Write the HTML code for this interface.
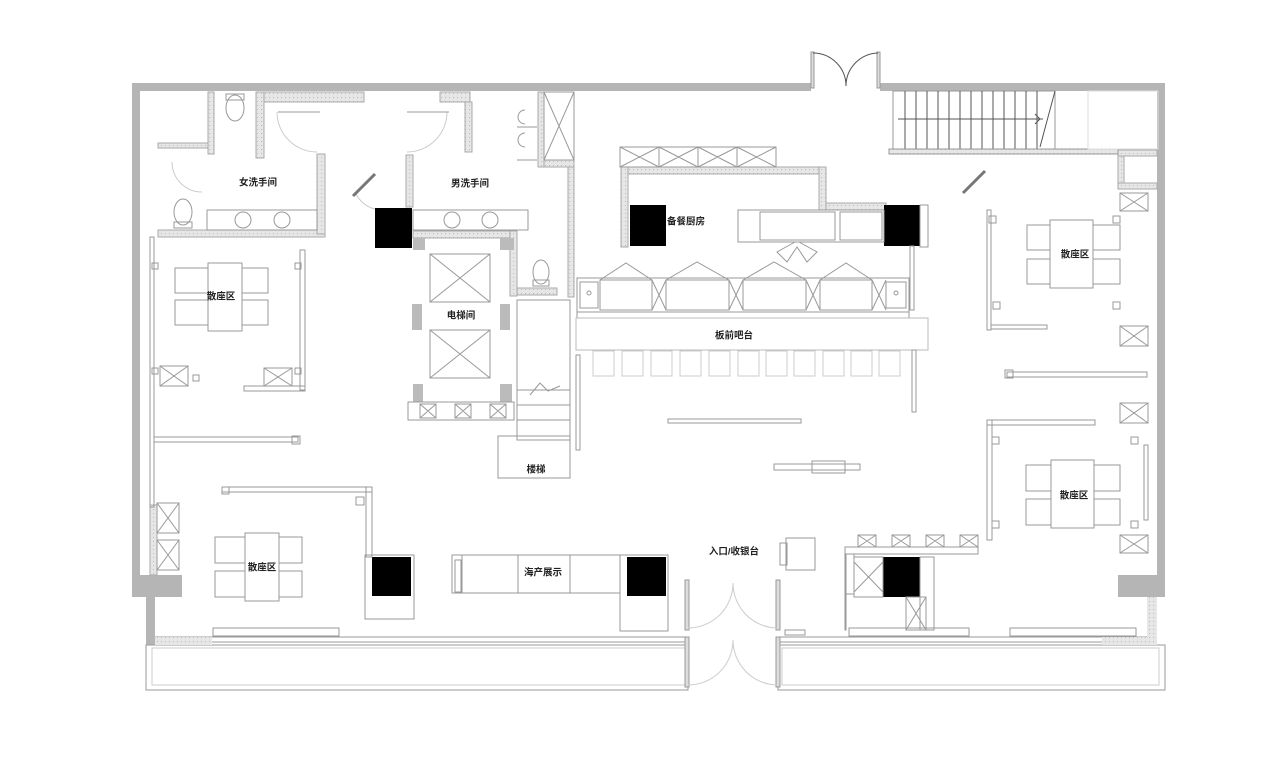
<!DOCTYPE html>
<html><head><meta charset="utf-8">
<style>
html,body{margin:0;padding:0;background:#fff;}
svg{display:block;}
text{font-family:"Liberation Sans","Noto Sans CJK SC",sans-serif;font-size:9.5px;font-weight:bold;fill:#222;text-anchor:middle;dominant-baseline:middle;}
</style></head>
<body>
<svg width="1280" height="757" viewBox="0 0 1280 757" xmlns="http://www.w3.org/2000/svg">
<defs>
<pattern id="dot" width="4" height="4" patternUnits="userSpaceOnUse"><rect width="4" height="4" fill="#e6e6e6"/><rect x="1" y="1" width="1" height="1" fill="#bbb"/></pattern>
</defs>
<g fill="none" stroke="#999" stroke-width="1">
<!-- outer walls -->
<g fill="#b5b5b5" stroke="none">
<rect x="132" y="83" width="679" height="8"/>
<rect x="880" y="83" width="285" height="8"/>
<rect x="132" y="83" width="8" height="514"/>
<rect x="132" y="575" width="50" height="22"/>
<rect x="146" y="597" width="9" height="48"/>
<rect x="1157" y="83" width="8" height="513"/>
<rect x="1118" y="575" width="47" height="22"/>
</g>
<!-- top door -->
<rect x="811" y="52" width="3" height="36" fill="#ddd"/>
<rect x="877" y="52" width="3" height="36" fill="#ddd"/>
<path d="M813 53 A33 33 0 0 1 846 86 M878 53 A33 33 0 0 0 846 86" stroke="#555"/>
<!-- bottom porch -->
<rect x="146" y="645" width="542" height="45"/>
<rect x="152" y="648" width="534" height="37" stroke="#ccc"/>
<rect x="778" y="645" width="387" height="45"/>
<rect x="782" y="648" width="377" height="37" stroke="#ccc"/>
<line x1="155" y1="637" x2="688" y2="637"/>
<line x1="155" y1="642" x2="688" y2="642"/>
<line x1="778" y1="637" x2="1157" y2="637"/>
<line x1="778" y1="642" x2="1157" y2="642"/>
<rect x="155" y="637" width="57" height="8" fill="url(#dot)" stroke="none"/>
<rect x="1102" y="637" width="55" height="8" fill="url(#dot)" stroke="none"/>
<rect x="1147" y="597" width="10" height="40" fill="url(#dot)" stroke="none"/>
<rect x="213" y="628" width="126" height="8"/>
<rect x="1010" y="628" width="126" height="8"/>
<rect x="849" y="628" width="120" height="8"/>
<!-- entrance doors -->
<rect x="685" y="580" width="4" height="50" fill="#ddd"/><rect x="685" y="637" width="4" height="50" fill="#ddd"/>
<rect x="776" y="580" width="4" height="50" fill="#ddd"/><rect x="776" y="637" width="4" height="50" fill="#ddd"/>
<path d="M688 628 A45 45 0 0 0 733 583 A45 45 0 0 0 777 628 M688 685 A45 45 0 0 0 733 640 A45 45 0 0 0 777 685" stroke="#ccc"/>
<!-- toilets area walls -->
<g fill="url(#dot)" stroke="#aaa">
<rect x="158" y="143" width="50" height="5"/>
<rect x="158" y="230" width="167" height="7"/>
<rect x="317" y="154" width="8" height="80"/>
<rect x="208" y="92" width="6" height="62"/>
<rect x="256" y="92" width="8" height="66"/>
<rect x="264" y="92" width="100" height="10"/>
<rect x="440" y="92" width="30" height="10"/>
<rect x="465" y="102" width="7" height="50"/>
<rect x="406" y="155" width="7" height="52"/>
<rect x="413" y="231" width="102" height="7"/>
<rect x="510" y="231" width="7" height="65"/>
<rect x="517" y="288" width="40" height="7"/>
<rect x="538" y="92" width="6" height="75"/>
<rect x="544" y="160" width="30" height="7"/>
<rect x="568" y="167" width="6" height="130"/>
<rect x="621" y="167" width="205" height="7"/>
<rect x="621" y="167" width="7" height="80"/>
<rect x="819" y="167" width="7" height="43"/>
<rect x="826" y="203" width="60" height="7"/>
<rect x="1118" y="150" width="39" height="6"/>
<rect x="1118" y="156" width="6" height="30"/>
<rect x="1118" y="183" width="39" height="6"/>
<rect x="150" y="505" width="7" height="70"/>
</g>
<!-- toilet fixtures -->
<ellipse cx="235" cy="108" rx="9" ry="13"/><rect x="226" y="94" width="18" height="6"/>
<ellipse cx="183" cy="212" rx="9" ry="13"/><rect x="174" y="222" width="18" height="6"/>
<ellipse cx="541" cy="272" rx="8" ry="12"/><rect x="533" y="280" width="16" height="6"/>
<rect x="207" y="210" width="110" height="20"/><circle cx="243" cy="220" r="8"/><circle cx="282" cy="220" r="8"/>
<rect x="413" y="210" width="115" height="20"/><circle cx="452" cy="220" r="8"/><circle cx="490" cy="220" r="8"/>
<path d="M525 110 a7 7 0 0 0 0 14 M525 133 a7 7 0 0 0 0 14"/>
<line x1="517" y1="127" x2="537" y2="127"/><line x1="517" y1="160" x2="537" y2="160"/>
<rect x="544" y="92" width="30" height="68"/><path d="M544 92 L574 160 M574 92 L544 160"/>
<!-- door arcs -->
<path d="M277 112 A40 40 0 0 0 317 152 M447 112 A40 40 0 0 1 407 152 M172 162 A30 30 0 0 0 202 192 M355 192 A30 30 0 0 0 380 210" stroke="#ccc"/>
<line x1="278" y1="112" x2="320" y2="112"/><line x1="407" y1="112" x2="449" y2="112"/>
<line x1="353" y1="196" x2="375" y2="174" stroke-width="3" stroke="#777"/>
<line x1="963" y1="193" x2="985" y2="171" stroke-width="3" stroke="#777"/>
<!-- black columns -->
<g fill="#000" stroke="none">
<rect x="375" y="208" width="37" height="40"/>
<rect x="630" y="205" width="36" height="41"/>
<rect x="884" y="205" width="36" height="41"/>
<rect x="372" y="557" width="39" height="39"/>
<rect x="627" y="557" width="39" height="39"/>
<rect x="883" y="557" width="37" height="40"/>
</g>
<!-- elevator -->
<rect x="430" y="254" width="60" height="48"/><path d="M430 254 L490 302 M490 254 L430 302"/>
<rect x="430" y="330" width="60" height="48"/><path d="M430 330 L490 378 M490 330 L430 378"/>
<g fill="#bbb" stroke="none">
<rect x="413" y="238" width="12" height="12"/><rect x="500" y="238" width="14" height="12"/>
<rect x="412" y="304" width="10" height="26"/><rect x="500" y="304" width="10" height="26"/>
<rect x="413" y="384" width="10" height="18"/><rect x="500" y="384" width="12" height="18"/>
</g>
<rect x="408" y="402" width="106" height="18"/>
<path d="M420 404 h16 v14 h-16z M420 404 l16 14 M436 404 l-16 14 M455 404 h16 v14 h-16z M455 404 l16 14 M471 404 l-16 14 M490 404 h16 v14 h-16z M490 404 l16 14 M506 404 l-16 14"/>
<!-- stairs -->
<rect x="517" y="300" width="53" height="140"/>
<path d="M517 390 h53 M517 405 h53 M517 420 h53 M530 395 l10 -12 l8 8 l12 -5"/>
<rect x="498" y="436" width="72" height="42"/>
<rect x="576" y="355" width="4" height="95"/>
<rect x="893" y="91" width="162" height="58"/>
<g stroke="#555"><path d="M905 91 v58 M916 91 v58 M927 91 v58 M938 91 v58 M949 91 v58 M960 91 v58 M971 91 v58 M982 91 v58 M993 91 v58 M1004 91 v58 M1015 91 v58 M1026 91 v58 M1037 91 v58 M898 119 h145 M1055 91 L1040 147 M1035 114 l5 5 l-5 5 M1029 119 h12"/></g>
<rect x="889" y="149" width="229" height="5" fill="url(#dot)"/>
<rect x="1088" y="91" width="70" height="58" stroke="#ddd"/>
<!-- kitchen -->
<rect x="620" y="147" width="156" height="20"/>
<path d="M620 147 h39 v20 h-39z M620 147 l39 20 M659 147 l-39 20 M659 147 h39 v20 h-39z M659 147 l39 20 M698 147 l-39 20 M698 147 h39 v20 h-39z M698 147 l39 20 M737 147 l-39 20 M737 147 h39 v20 h-39z M737 147 l39 20 M776 147 l-39 20"/>
<rect x="738" y="210" width="146" height="32"/>
<rect x="760" y="212" width="75" height="28"/><rect x="840" y="212" width="42" height="28"/>
<path d="M795 242 l-18 10 l10 10 l10 -15 l10 15 l10 -10 l-18 -10"/>
<rect x="920" y="205" width="8" height="42"/>
<!-- bar counter -->
<rect x="577" y="278" width="332" height="34"/>
<g>
<rect x="600" y="280" width="52" height="30"/><path d="M600 280 l26 -17 l26 17"/>
<rect x="666" y="280" width="63" height="30"/><path d="M666 280 l31 -18 l32 18"/>
<rect x="743" y="280" width="63" height="30"/><path d="M743 280 l31 -18 l32 18"/>
<rect x="820" y="280" width="52" height="30"/><path d="M820 280 l26 -17 l26 17"/>
<path d="M652 280 l14 30 M666 280 l-14 30 M729 280 l14 30 M743 280 l-14 30 M806 280 l14 30 M820 280 l-14 30 M872 280 l14 30 M886 280 l-14 30"/>
<rect x="580" y="282" width="18" height="26"/><rect x="886" y="282" width="20" height="26"/>
<circle cx="589" cy="293" r="2"/><circle cx="896" cy="293" r="2"/>
</g>
<rect x="577" y="312" width="332" height="6"/>
<rect x="576" y="318" width="352" height="32" stroke="#bbb"/>
<g stroke="#ccc">
<rect x="593" y="351" width="21" height="25"/><rect x="622" y="351" width="21" height="25"/><rect x="651" y="351" width="21" height="25"/><rect x="680" y="351" width="21" height="25"/><rect x="709" y="351" width="21" height="25"/><rect x="738" y="351" width="21" height="25"/><rect x="766" y="351" width="21" height="25"/><rect x="794" y="351" width="21" height="25"/><rect x="823" y="351" width="21" height="25"/><rect x="851" y="351" width="21" height="25"/><rect x="879" y="351" width="21" height="25"/>
</g>
<rect x="912" y="350" width="4" height="62"/>
<rect x="910" y="246" width="4" height="64"/>
<!-- mid partitions -->
<rect x="668" y="419" width="133" height="4"/>
<rect x="774" y="464" width="86" height="6"/><rect x="812" y="461" width="33" height="12"/>
<!-- left zones -->
<rect x="150" y="237" width="4" height="270"/>
<rect x="154" y="437" width="144" height="5"/><rect x="292" y="436" width="8" height="8"/>
<rect x="300" y="250" width="5" height="140"/><rect x="244" y="386" width="61" height="5"/>
<rect x="152" y="263" width="6" height="6"/><rect x="295" y="263" width="6" height="6"/>
<rect x="152" y="368" width="6" height="6"/><rect x="193" y="375" width="6" height="6"/><rect x="295" y="368" width="6" height="6"/>
<rect x="160" y="366" width="28" height="20"/><path d="M160 366 l28 20 M188 366 l-28 20"/>
<rect x="264" y="368" width="28" height="18"/><path d="M264 368 l28 18 M292 368 l-28 18"/>
<rect x="157" y="503" width="22" height="30"/><path d="M157 503 l22 30 M179 503 l-22 30"/>
<rect x="157" y="540" width="22" height="30"/><path d="M157 540 l22 30 M179 540 l-22 30"/>
<rect x="222" y="487" width="150" height="5"/><rect x="222" y="487" width="7" height="7"/><rect x="356" y="497" width="8" height="8"/>
<rect x="366" y="487" width="6" height="70"/>
<rect x="365" y="555" width="49" height="64"/>
<rect x="620" y="555" width="48" height="76"/>
<rect x="452" y="555" width="168" height="38"/>
<path d="M462 555 v38 M518 555 v38 M570 555 v38"/>
<rect x="455" y="560" width="6" height="32"/>
<!-- dining sets -->
<g>
<rect x="208" y="263" width="34" height="68"/>
<rect x="175" y="268" width="33" height="25"/><rect x="175" y="300" width="33" height="25"/>
<rect x="242" y="268" width="26" height="25"/><rect x="242" y="300" width="26" height="25"/>
<rect x="1050" y="220" width="43" height="68"/>
<rect x="1027" y="225" width="23" height="25"/><rect x="1027" y="259" width="23" height="25"/>
<rect x="1093" y="225" width="27" height="25"/><rect x="1093" y="259" width="27" height="25"/>
<rect x="1051" y="460" width="43" height="68"/>
<rect x="1026" y="465" width="25" height="26"/><rect x="1026" y="499" width="25" height="26"/>
<rect x="1094" y="465" width="26" height="26"/><rect x="1094" y="499" width="26" height="26"/>
<rect x="245" y="533" width="34" height="68"/>
<rect x="215" y="537" width="30" height="26"/><rect x="215" y="571" width="30" height="26"/>
<rect x="279" y="537" width="23" height="26"/><rect x="279" y="571" width="23" height="26"/>
</g>
<!-- right zones -->
<rect x="987" y="210" width="4" height="120"/><rect x="991" y="325" width="56" height="4"/>
<rect x="1007" y="372" width="140" height="5"/><rect x="1005" y="370" width="8" height="8"/>
<rect x="989" y="216" width="7" height="7"/><rect x="1113" y="216" width="7" height="7"/>
<rect x="993" y="302" width="7" height="7"/><rect x="1113" y="302" width="7" height="7"/>
<rect x="1120" y="193" width="28" height="18"/><path d="M1120 193 l28 18 M1148 193 l-28 18"/>
<rect x="1120" y="326" width="28" height="20"/><path d="M1120 326 l28 20 M1148 326 l-28 20"/>
<rect x="1120" y="403" width="28" height="20"/><path d="M1120 403 l28 20 M1148 403 l-28 20"/>
<rect x="1120" y="535" width="28" height="18"/><path d="M1120 535 l28 18 M1148 535 l-28 18"/>
<rect x="987" y="420" width="108" height="5"/><rect x="987" y="420" width="5" height="120"/>
<rect x="992" y="437" width="7" height="7"/><rect x="1131" y="437" width="7" height="7"/>
<rect x="992" y="521" width="7" height="7"/><rect x="1131" y="521" width="7" height="7"/>
<rect x="1144" y="445" width="4" height="75"/>
<rect x="845" y="547" width="133" height="7"/>
<path d="M858 535 h18 v12 h-18z M858 535 l18 12 M876 535 l-18 12 M892 535 h18 v12 h-18z M892 535 l18 12 M910 535 l-18 12 M926 535 h18 v12 h-18z M926 535 l18 12 M944 535 l-18 12 M960 535 h18 v12 h-18z M960 535 l18 12 M978 535 l-18 12"/>
<rect x="846" y="554" width="8" height="40"/>
<rect x="854" y="557" width="29" height="40"/><path d="M854 562 l29 30 M883 562 l-29 30"/>
<rect x="906" y="597" width="20" height="33"/><path d="M906 597 l20 33 M926 597 l-20 33"/>
<rect x="920" y="557" width="14" height="73"/>
<rect x="845" y="554" width="1" height="76"/>
<rect x="785" y="630" width="20" height="5"/>
<rect x="786" y="538" width="29" height="32"/><rect x="780" y="543" width="7" height="22"/>
</g>
<!-- labels -->
<text x="258" y="183">女洗手间</text>
<text x="470" y="184">男洗手间</text>
<text x="461" y="316">电梯间</text>
<text x="686" y="222">备餐厨房</text>
<text x="734" y="336">板前吧台</text>
<text x="536" y="470">楼梯</text>
<text x="543" y="573">海产展示</text>
<text x="734" y="552">入口/收银台</text>
<text x="221" y="297">散座区</text>
<text x="1075" y="255">散座区</text>
<text x="1074" y="496">散座区</text>
<text x="262" y="568">散座区</text>
</svg>
</body></html>
